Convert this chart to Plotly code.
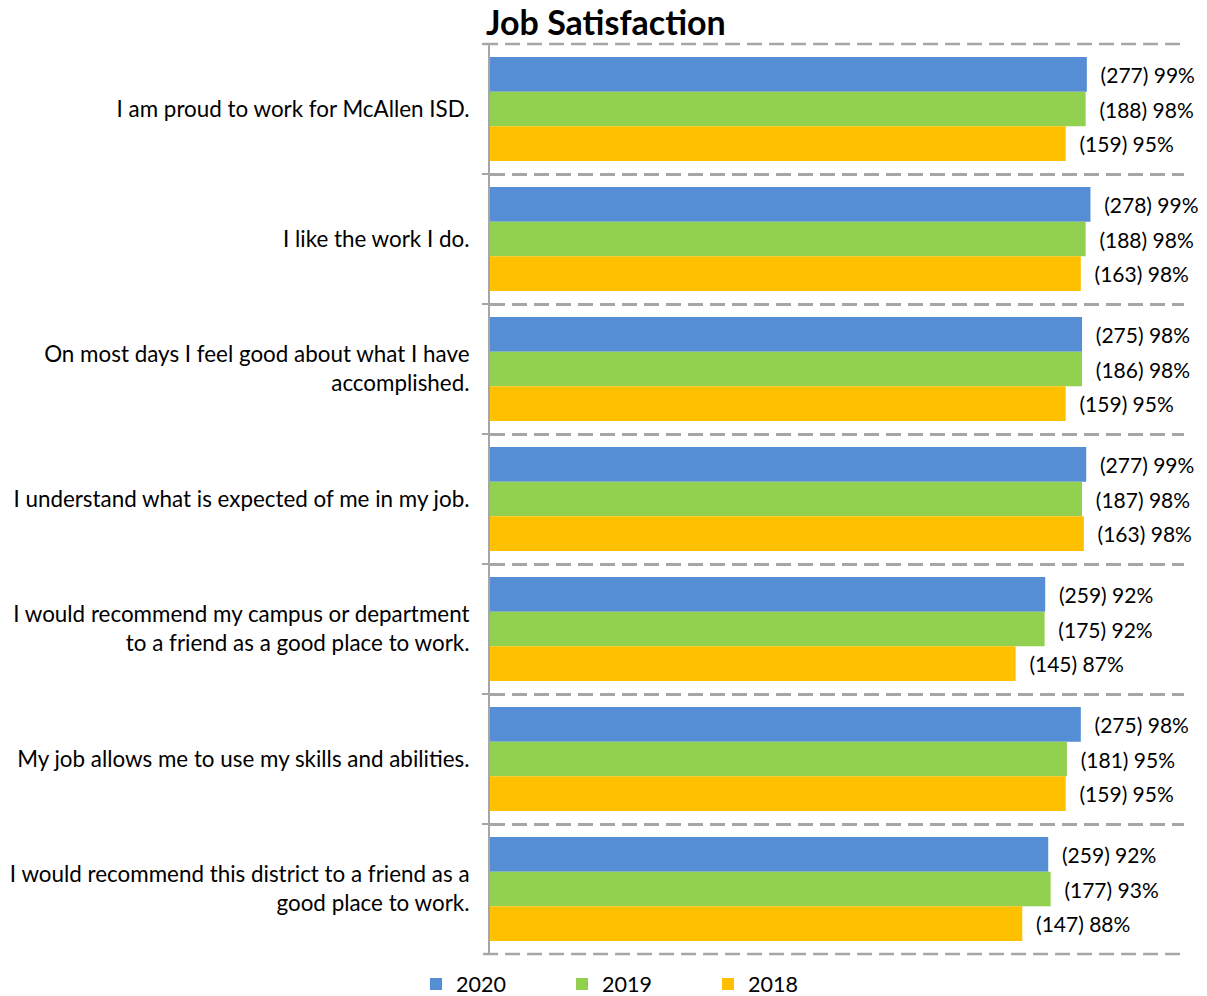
import plotly.graph_objects as go

categories = [
    "I am proud to work for McAllen ISD.",
    "I like the work I do.",
    "On most days I feel good about what I have<br>accomplished.",
    "I understand what is expected of me in my job.",
    "I would recommend my campus or department<br>to a friend as a good place to work.",
    "My job allows me to use my skills and abilities.",
    "I would recommend this district to a friend as a<br>good place to work.",
]

series_names = ["2020", "2019", "2018"]
colors = ["#558ED5", "#92D050", "#FFC000"]

values_2020 = [0.989, 0.995, 0.981, 0.988, 0.920, 0.979, 0.925]
values_2019 = [0.987, 0.987, 0.981, 0.981, 0.919, 0.956, 0.929]
values_2018 = [0.954, 0.979, 0.954, 0.984, 0.871, 0.954, 0.882]

counts_2020 = [277, 278, 275, 277, 259, 275, 259]
counts_2019 = [188, 188, 186, 187, 175, 181, 177]
counts_2018 = [159, 163, 159, 163, 145, 159, 147]

pct_2020 = ["99%", "99%", "98%", "99%", "92%", "98%", "92%"]
pct_2019 = ["98%", "98%", "98%", "98%", "92%", "95%", "93%"]
pct_2018 = ["95%", "98%", "95%", "98%", "87%", "95%", "88%"]

FONT = "Lato"
GRID = "#A6A6A6"
DASH = "15px,7px"

W, H = 1207, 996
ML, MR = 490, 23
PW = W - ML - MR

fig = go.Figure()
for name, color, vals, cnts, pcts in zip(
    series_names, colors,
    [values_2020, values_2019, values_2018],
    [counts_2020, counts_2019, counts_2018],
    [pct_2020, pct_2019, pct_2018],
):
    fig.add_trace(go.Bar(
        y=categories, x=vals, name=name, orientation="h",
        marker=dict(color=color, line=dict(width=0)),
        text=[f"\u00a0\u00a0({c}) {p}" for c, p in zip(cnts, pcts)],
        textposition="outside", constraintext="none", cliponaxis=False,
        textfont=dict(family=FONT, size=21, color="#000000"),
        hoverinfo="skip",
    ))

# dashed borders at top and bottom of the plot area (outer category boundaries)
for yy in (0, 1):
    fig.add_shape(type="line", xref="paper", yref="paper",
                  x0=-0.01, x1=1, y0=yy, y1=yy,
                  line=dict(color=GRID, width=2.5, dash=DASH), layer="below")

fig.update_layout(
    width=W, height=H,
    margin=dict(l=ML, r=MR, t=44, b=42, autoexpand=False),
    paper_bgcolor="white", plot_bgcolor="white",
    barmode="group", bargap=0.2, bargroupgap=0,
    font=dict(family=FONT, size=22, color="#000000"),
    title=dict(text="<b>Job Satisfaction</b>", x=486 / W, xref="container", xanchor="left",
               y=1 - 23 / H, yref="container", yanchor="middle",
               font=dict(family=FONT, size=34, color="#000000")),
    showlegend=True,
    legend=dict(orientation="h", x=(416 - ML) / PW, xanchor="left",
                yref="container", y=12 / H, yanchor="middle",
                entrywidth=101, entrywidthmode="pixels",
                font=dict(family=FONT, size=21.5, color="#000000"),
                traceorder="normal"),
    xaxis=dict(range=[0, 1.15], visible=False, showgrid=False, zeroline=False,
               automargin=False),
    yaxis=dict(autorange="reversed", type="category", tickson="boundaries",
               automargin=False,
               showgrid=True, gridcolor=GRID, gridwidth=2.5, griddash=DASH,
               ticks="outside", ticklen=6, tickcolor=GRID, tickwidth=2,
               showline=True, linecolor=GRID, linewidth=2,
               ticklabelstandoff=14,
               tickfont=dict(family=FONT, size=22.4, color="#000000")),
)

fig.write_html("out.html", config={"displayModeBar": False},
               post_script="document.body.style.margin = '0px';")
